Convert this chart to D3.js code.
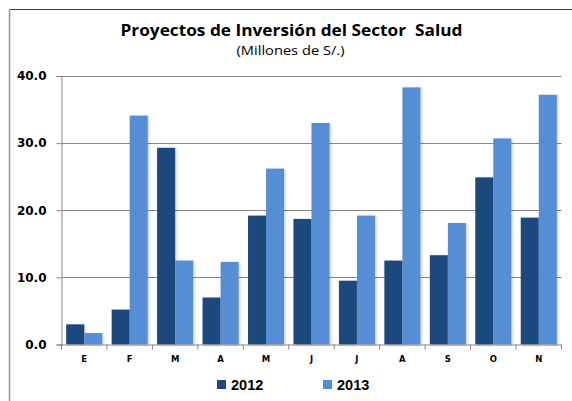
<!DOCTYPE html>
<html>
<head>
<meta charset="utf-8">
<script src="https://cdn.jsdelivr.net/npm/d3@7"></script>
<style>
  html, body { margin: 0; padding: 0; background: #fff; }
  svg { display: block; }
</style>
</head>
<body>
<svg id="chart" width="572" height="401"></svg>
<script>
// Monthly investment in health-sector projects (millions of S/.)
const months = ["E", "F", "M", "A", "M", "J", "J", "A", "S", "O", "N"];
const series = ["2012", "2013"];
const values2012 = [3.0, 5.2, 29.3, 7.0, 19.2, 18.7, 9.5, 12.5, 13.3, 24.9, 18.9];
const values2013 = [1.7, 34.1, 12.5, 12.3, 26.2, 33.0, 19.2, 38.3, 18.1, 30.7, 37.2];
const yTicks = [0, 10, 20, 30, 40];
const colors = ["#1F497D", "#558ED5"];

const svg = d3.select("#chart");

// outer frame
svg.append("line").attr("x1", 9.5).attr("x2", 572).attr("y1", 9.5).attr("y2", 9.5)
  .attr("stroke", "#243f60").attr("stroke-width", 1.2);
svg.append("line").attr("x1", 9.5).attr("x2", 9.5).attr("y1", 9.5).attr("y2", 401)
  .attr("stroke", "#8497b0").attr("stroke-width", 1.5);

// title
svg.append("text")
  .attr("x", 291.5).attr("y", 35.7)
  .attr("text-anchor", "middle")
  .style("white-space", "pre")
  .attr("font-family", "'Open Sans', 'Liberation Sans', sans-serif")
  .attr("font-weight", "bold").attr("font-size", 16.5)
  .attr("textLength", 342).attr("lengthAdjust", "spacingAndGlyphs")
  .attr("fill", "#000")
  .text("Proyectos de Inversión del Sector  Salud");
svg.append("text")
  .attr("x", 290.5).attr("y", 55)
  .attr("text-anchor", "middle")
  .attr("font-family", "'Open Sans', 'Liberation Sans', sans-serif")
  .attr("font-size", 12)
  .attr("textLength", 108).attr("lengthAdjust", "spacingAndGlyphs")
  .attr("fill", "#000")
  .text("(Millones de S/.)");

const plotLeft = 61.5, plotRight = 561.5, plotTop = 76, plotBottom = 344.5;

const x = d3.scaleBand().domain(d3.range(months.length))
  .range([plotLeft, plotRight]).paddingInner(0.207).paddingOuter(0.1035);
const xs = d3.scaleBand().domain(series).range([0, x.bandwidth()]);
const y = d3.scaleLinear().domain([0, 40]).range([plotBottom, plotTop]);

// gridlines
svg.append("g").selectAll("line").data(yTicks.slice(1)).join("line")
  .attr("x1", plotLeft).attr("x2", plotRight)
  .attr("y1", d => Math.round(y(d)) + 0.5).attr("y2", d => Math.round(y(d)) + 0.5)
  .attr("stroke", "#868686").attr("stroke-width", 1);

// y axis
const yAxis = svg.append("g").attr("transform", `translate(${plotLeft},0)`)
  .call(d3.axisLeft(y).tickValues(yTicks).tickSize(5).tickPadding(10)
    .tickFormat(d3.format(".1f")));
yAxis.select(".domain").attr("stroke", "#868686");
yAxis.selectAll(".tick line").attr("stroke", "#868686");
yAxis.selectAll(".tick text")
  .attr("font-family", "'DejaVu Sans', sans-serif")
  .attr("font-weight", "bold").attr("font-size", 12).attr("fill", "#000");

// drop shadow for the bars
const defs = svg.append("defs");
const f = defs.append("filter").attr("id", "sh").attr("x", "-20%").attr("y", "-5%")
  .attr("width", "150%").attr("height", "110%");
f.append("feDropShadow").attr("dx", 1.2).attr("dy", 0.6).attr("stdDeviation", 0.8)
  .attr("flood-color", "#000").attr("flood-opacity", 0.22);

// bars
const rows = months.map((m, i) => ({ i, vals: [values2012[i], values2013[i]] }));
const groups = svg.append("g").selectAll("g").data(rows).join("g")
  .attr("transform", d => `translate(${x(d.i)},0)`);
groups.selectAll("rect").data(d => d.vals.map((v, k) => ({ k, v }))).join("rect")
  .attr("x", d => xs(series[d.k]))
  .attr("width", xs.bandwidth())
  .attr("y", d => y(d.v))
  .attr("height", d => y(0) - y(d.v))
  .attr("fill", d => colors[d.k])
  .attr("filter", "url(#sh)");

// x axis with category boundary ticks
const xAxisG = svg.append("g");
xAxisG.append("line").attr("x1", plotLeft).attr("x2", plotRight)
  .attr("y1", plotBottom + 0.5).attr("y2", plotBottom + 0.5).attr("stroke", "#868686");
xAxisG.selectAll("line.b").data(d3.range(months.length + 1)).join("line")
  .attr("class", "b")
  .attr("x1", d => plotLeft + d * (plotRight - plotLeft) / months.length)
  .attr("x2", d => plotLeft + d * (plotRight - plotLeft) / months.length)
  .attr("y1", plotBottom).attr("y2", plotBottom + 5).attr("stroke", "#868686");
xAxisG.selectAll("text").data(months).join("text")
  .attr("x", (d, i) => x(i) + x.bandwidth() / 2)
  .attr("y", 362)
  .attr("text-anchor", "middle")
  .attr("font-family", "'DejaVu Sans', sans-serif")
  .attr("font-weight", "bold").attr("font-size", 8.5)
  .text(d => d);

// legend
const legendX = [217, 323];
const lg = svg.append("g").selectAll("g").data(series).join("g")
  .attr("transform", (d, i) => `translate(${legendX[i]},380)`);
lg.append("rect").attr("width", 9).attr("height", 9).attr("fill", (d, i) => colors[i]);
lg.append("text").attr("x", 14).attr("y", 9.5)
  .attr("font-family", "'Liberation Sans', Arial, sans-serif")
  .attr("font-weight", "bold").attr("font-size", 14.5)
  .text(d => d);
</script>
</body>
</html>
